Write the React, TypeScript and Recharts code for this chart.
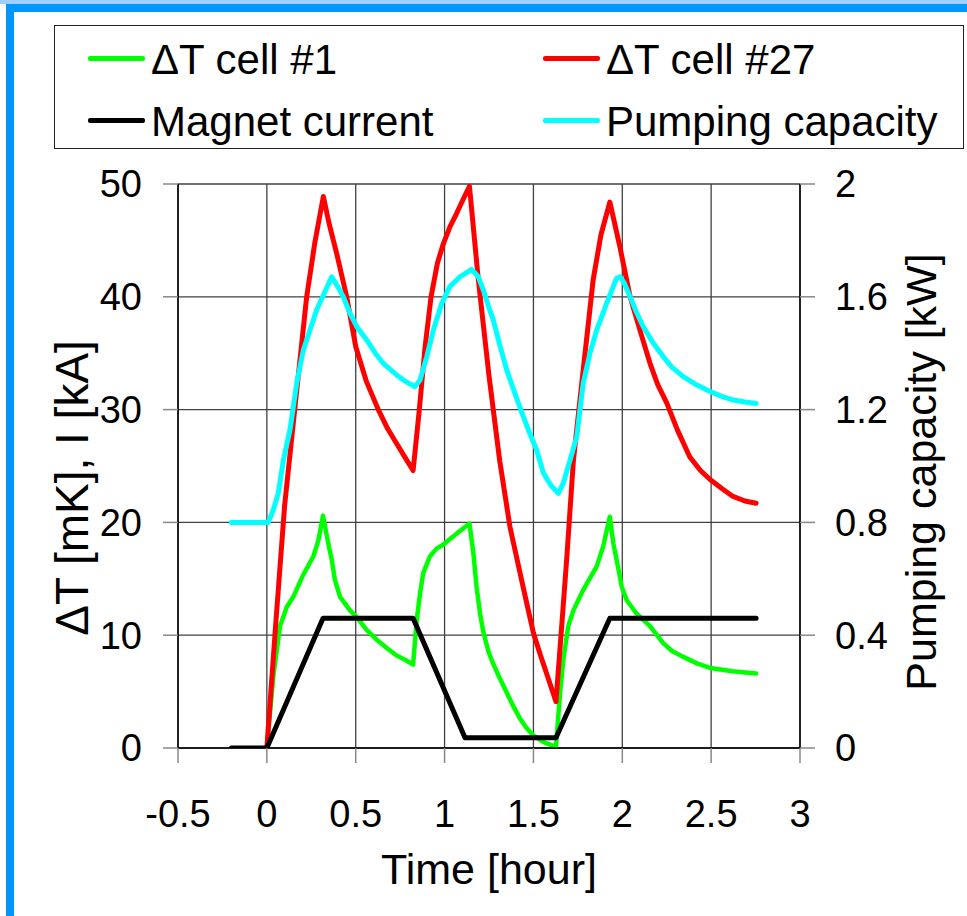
import { LineChart, Line, XAxis, YAxis, CartesianGrid, Label } from "recharts"

const FONT = '"Liberation Sans", Arial, sans-serif'

// axis ticks
const timeTicks = [-0.5, 0, 0.5, 1, 1.5, 2, 2.5, 3]
const deltaTicks = [0, 10, 20, 30, 40, 50]
const pumpTicks = [0, 0.4, 0.8, 1.2, 1.6, 2]

// ΔT cell #1 [mK]
const cell1Time = [0, 0.036, 0.074, 0.112, 0.149, 0.2, 0.262, 0.29, 0.316, 0.346, 0.365, 0.383, 0.412, 0.468, 0.506, 0.56, 0.618, 0.68, 0.73, 0.78, 0.823, 0.843, 0.862, 0.88, 0.918, 0.956, 0.99, 1.06, 1.14, 1.162, 1.18, 1.2, 1.218, 1.246, 1.27, 1.31, 1.35, 1.39, 1.425, 1.46, 1.5, 1.56, 1.627, 1.65, 1.668, 1.696, 1.725, 1.78, 1.856, 1.893, 1.93, 1.95, 1.968, 1.997, 2.025, 2.081, 2.156, 2.23, 2.28, 2.34, 2.42, 2.494, 2.62, 2.753]
const cell1Delta = [0, 6.3, 10.8, 12.5, 13.4, 15.2, 17, 18.4, 20.6, 18.1, 16.7, 14.9, 13.4, 12.2, 11.6, 10.5, 9.6, 8.8, 8.2, 7.8, 7.4, 11.3, 13.7, 15.5, 17, 17.7, 18, 18.9, 19.9, 17.3, 14.3, 11.9, 10.3, 8.6, 7.6, 6.2, 4.9, 3.6, 2.6, 1.8, 1.1, 0.5, 0.1, 4.9, 7.8, 10.8, 12.2, 14, 16.1, 17.9, 20.5, 18.1, 16.7, 14.3, 13.1, 11.9, 10.8, 9.3, 8.6, 8.1, 7.5, 7.1, 6.8, 6.6]

// ΔT cell #27 [mK]
const cell27Time = [0, 0.05, 0.1, 0.16, 0.224, 0.27, 0.318, 0.35, 0.392, 0.42, 0.449, 0.5, 0.56, 0.627, 0.68, 0.73, 0.78, 0.823, 0.858, 0.89, 0.924, 0.96, 0.993, 1.03, 1.068, 1.1, 1.14, 1.19, 1.25, 1.31, 1.368, 1.425, 1.46, 1.5, 1.54, 1.574, 1.627, 1.66, 1.687, 1.725, 1.78, 1.836, 1.88, 1.93, 1.987, 2.044, 2.1, 2.156, 2.2, 2.25, 2.31, 2.38, 2.44, 2.494, 2.56, 2.623, 2.69, 2.753]
const cell27Delta = [0, 11, 21.5, 30.5, 40, 44.8, 48.9, 46.5, 43.9, 42, 40, 35.6, 32.5, 30, 28.3, 27, 25.7, 24.6, 30, 35.5, 40, 43, 44.7, 46.2, 47.4, 48.5, 49.8, 41.5, 33, 25.5, 19.6, 15.5, 13, 10.2, 8.2, 6.6, 4.1, 11, 16.7, 25.5, 33.5, 41.5, 45.5, 48.4, 44.4, 40, 37, 34.1, 32.2, 30.6, 28.2, 25.8, 24.6, 23.8, 23, 22.3, 21.9, 21.7]

// Magnet current [kA]
const magnetTime = [-0.2, 0, 0.316, 0.823, 1.115, 1.627, 1.93, 2.753]
const magnetCurrent = [0, 0, 11.5, 11.5, 0.9, 0.9, 11.5, 11.5]

// Pumping capacity [kW]
const pumpTime = [-0.2, 0.008, 0.036, 0.064, 0.093, 0.13, 0.168, 0.205, 0.28, 0.365, 0.4, 0.43, 0.468, 0.506, 0.562, 0.61, 0.655, 0.73, 0.78, 0.833, 0.862, 0.9, 0.937, 0.984, 1.03, 1.087, 1.152, 1.19, 1.218, 1.245, 1.274, 1.31, 1.35, 1.4, 1.443, 1.48, 1.518, 1.556, 1.6, 1.64, 1.668, 1.706, 1.744, 1.762, 1.78, 1.818, 1.856, 1.912, 1.968, 1.987, 2.01, 2.044, 2.08, 2.118, 2.17, 2.23, 2.28, 2.343, 2.42, 2.494, 2.56, 2.625, 2.69, 2.753]
const pumpCapacity = [0.8, 0.8, 0.844, 0.903, 1.021, 1.128, 1.294, 1.41, 1.553, 1.671, 1.635, 1.6, 1.541, 1.494, 1.447, 1.4, 1.364, 1.323, 1.3, 1.281, 1.305, 1.388, 1.482, 1.577, 1.636, 1.671, 1.697, 1.671, 1.624, 1.57, 1.518, 1.43, 1.34, 1.25, 1.175, 1.115, 1.057, 0.975, 0.93, 0.903, 0.939, 1.021, 1.104, 1.2, 1.293, 1.4, 1.482, 1.577, 1.666, 1.671, 1.65, 1.6, 1.545, 1.494, 1.44, 1.388, 1.35, 1.317, 1.287, 1.264, 1.247, 1.234, 1.227, 1.222]

const legendItems = [
  { name: "ΔT cell #1", color: "#00ff00" },
  { name: "ΔT cell #27", color: "#ff0000" },
  { name: "Magnet current", color: "#000000" },
  { name: "Pumping capacity", color: "#00ffff" },
]

function toPoints(times: number[], values: number[]) {
  return times.map((t, i) => ({ t, v: values[i] }))
}

function LegendBox() {
  return (
    <div
      style={{
        position: "absolute",
        left: 54,
        top: 25,
        width: 908,
        height: 122,
        border: "1px solid #222",
        background: "#fff",
        fontFamily: FONT,
        fontSize: 42,
      }}
    >
      {legendItems.map((item, i) => (
        <div
          key={item.name}
          style={{
            position: "absolute",
            left: i % 2 === 0 ? 33 : 488,
            top: i < 2 ? 32 : 94,
            display: "flex",
            alignItems: "center",
            height: 0,
            whiteSpace: "nowrap",
          }}
        >
          <div style={{ width: 57, height: 5, background: item.color, borderRadius: 2 }} />
          <span style={{ marginLeft: 6, lineHeight: 1, position: "relative", top: 2 }}>{item.name}</span>
        </div>
      ))}
    </div>
  )
}

function LeftTitle(props: any) {
  const vb = props.viewBox
  const x = vb.x - 30
  const y = vb.y + vb.height / 2 + 22
  return (
    <text x={x} y={y} transform={`rotate(-90 ${x} ${y})`} textAnchor="middle" fontSize={46} fontFamily={FONT} fill="#000">
      ΔT [mK], I [kA]
    </text>
  )
}

function RightTitle(props: any) {
  const vb = props.viewBox
  const x = vb.x + vb.width + 76
  const y = vb.y + vb.height / 2 + 6
  return (
    <text x={x} y={y} transform={`rotate(-90 ${x} ${y})`} textAnchor="middle" fontSize={43} fontFamily={FONT} fill="#000">
      Pumping capacity [kW]
    </text>
  )
}

export default function App() {
  const tickStyle = { fill: "#000", fontSize: 38, fontFamily: FONT }
  const lineProps = {
    type: "linear" as const,
    dataKey: "v",
    dot: false,
    activeDot: false,
    isAnimationActive: false,
    strokeLinejoin: "round" as const,
    strokeLinecap: "round" as const,
  }
  return (
    <div style={{ position: "absolute", left: 0, top: 0, width: 967, height: 916, background: "#fff", overflow: "hidden" }}>
      <div style={{ position: "absolute", left: 0, top: 0, width: 967, height: 4, background: "#9fd0ff" }} />
      <div style={{ position: "absolute", left: 6, top: 4, width: 961, height: 8, background: "#0096ff" }} />
      <div style={{ position: "absolute", left: 6, top: 4, width: 8, height: 912, background: "#0096ff" }} />
      <LegendBox />
      <div style={{ position: "absolute", left: 0, top: 0 }}>
        <LineChart width={967} height={916} margin={{ top: 184, right: 107, bottom: 68, left: 118 }}>
          <CartesianGrid yAxisId="left" stroke="#404040" strokeWidth={1.3} />
          <XAxis
            type="number"
            dataKey="t"
            domain={[-0.5, 3]}
            ticks={timeTicks}
            height={100}
            tickSize={15}
            tickMargin={37}
            tick={tickStyle}
            axisLine={{ stroke: "#000", strokeWidth: 1.5 }}
            tickLine={{ stroke: "#888", strokeWidth: 1.5 }}
            allowDataOverflow
          >
            <Label value="Time [hour]" position="bottom" offset={5} fontSize={43} fontFamily={FONT} fill="#000" />
          </XAxis>
          <YAxis
            yAxisId="left"
            domain={[0, 50]}
            ticks={deltaTicks}
            width={60}
            tickSize={15}
            tickMargin={21}
            tick={tickStyle}
            axisLine={{ stroke: "#000", strokeWidth: 1.5 }}
            tickLine={{ stroke: "#888", strokeWidth: 1.5 }}
            allowDataOverflow
          >
            <Label content={LeftTitle} />
          </YAxis>
          <YAxis
            yAxisId="right"
            orientation="right"
            domain={[0, 2]}
            ticks={pumpTicks}
            width={60}
            tickSize={15}
            tickMargin={20}
            tick={tickStyle}
            axisLine={{ stroke: "#000", strokeWidth: 1.5 }}
            tickLine={{ stroke: "#888", strokeWidth: 1.5 }}
            allowDataOverflow
          >
            <Label content={RightTitle} />
          </YAxis>
          <Line {...lineProps} yAxisId="left" data={toPoints(cell1Time, cell1Delta)} stroke="#00ff00" strokeWidth={4.5} name="ΔT cell #1" />
          <Line {...lineProps} yAxisId="left" data={toPoints(cell27Time, cell27Delta)} stroke="#ff0000" strokeWidth={5} name="ΔT cell #27" />
          <Line {...lineProps} yAxisId="left" data={toPoints(magnetTime, magnetCurrent)} stroke="#000000" strokeWidth={5} name="Magnet current" />
          <Line {...lineProps} yAxisId="right" data={toPoints(pumpTime, pumpCapacity)} stroke="#00ffff" strokeWidth={5} name="Pumping capacity" />
        </LineChart>
      </div>
    </div>
  )
}
